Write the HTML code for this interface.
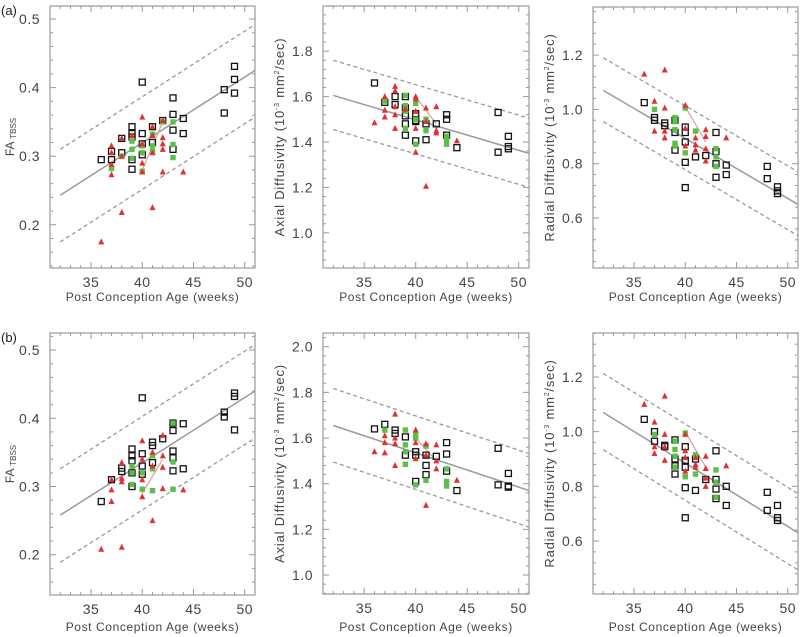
<!DOCTYPE html>
<html><head><meta charset="utf-8"><style>
body{margin:0;background:#fff;width:800px;height:637px;overflow:hidden}
svg{display:block;font-family:"Liberation Sans",sans-serif}
</style></head><body>
<svg id="fig" width="800" height="637"></svg>
<script>
// ---- data arrays ----
const p1BlackX=[36,37,37,38,38,39,39,39,39,39,40,40,40,40,41,41,42,43,43,43,43,44,44,48,48,49,49,49];
const p1BlackY=[0.295,0.307,0.295,0.305,0.326,0.343,0.333,0.328,0.295,0.281,0.408,0.333,0.318,0.302,0.343,0.32,0.352,0.385,0.361,0.338,0.31,0.355,0.333,0.397,0.363,0.431,0.412,0.392];
const p1GreenX=[37,38,39,39,39,40,40,40,41,41,41,42,43,43,43];
const p1GreenY=[0.282,0.30,0.322,0.31,0.297,0.315,0.305,0.278,0.332,0.315,0.307,0.35,0.35,0.317,0.298];
const p1RedX=[36,37,37,37,37,38,38,38,39,40,40,40,40,41,41,41,41,42,42,42,42,42,44];
const p1RedY=[0.175,0.315,0.305,0.288,0.273,0.326,0.30,0.218,0.33,0.357,0.318,0.29,0.277,0.343,0.33,0.305,0.225,0.352,0.327,0.318,0.31,0.277,0.277];

const p2BlackX=[36,37,38,38,39,39,39,39,39,40,40,40,40,41,41,42,43,43,43,44,48,48,49,49,49];
const p2BlackY=[1.66,1.575,1.6,1.565,1.6,1.55,1.515,1.48,1.43,1.525,1.495,1.49,1.405,1.48,1.41,1.48,1.52,1.5,1.43,1.375,1.53,1.355,1.425,1.38,1.37];
const p2GreenX=[37,39,39,39,39,40,40,40,41,41,43,43,43];
const p2GreenY=[1.58,1.605,1.56,1.535,1.46,1.57,1.5,1.39,1.5,1.45,1.425,1.41,1.39];
const p2RedX=[36,37,37,37,38,38,38,38,38,39,40,40,40,40,40,41,41,41,42,42,42,44];
const p2RedY=[1.485,1.6,1.54,1.51,1.645,1.625,1.555,1.52,1.46,1.545,1.6,1.59,1.535,1.46,1.355,1.55,1.49,1.205,1.555,1.45,1.44,1.405];

const p3BlackX=[36,37,37,38,38,39,39,39,40,40,40,40,40,41,42,43,43,43,43,44,44,48,48,49,49,49];
const p3BlackY=[1.025,0.97,0.96,0.95,0.94,0.96,0.915,0.85,0.935,0.915,0.88,0.805,0.712,0.825,0.83,0.915,0.845,0.80,0.75,0.795,0.76,0.79,0.745,0.715,0.70,0.69];
const p3GreenX=[37,39,39,39,39,39,40,40,41,43,43,43];
const p3GreenY=[1.0,0.97,0.955,0.925,0.875,0.865,1.005,0.84,0.92,0.855,0.825,0.79];
const p3RedX=[36,37,37,38,38,38,38,40,40,40,41,41,41,42,42,42,42,44];
const p3RedY=[1.13,1.03,0.92,1.145,1.005,0.92,0.895,1.015,0.93,0.865,0.895,0.87,0.85,0.925,0.9,0.855,0.81,0.895];

const p4BlackX=[36,37,38,38,39,39,39,39,39,40,40,40,40,41,41,41,42,43,43,43,43,43,44,44,48,48,49,49,49];
const p4BlackY=[0.278,0.31,0.327,0.322,0.355,0.345,0.338,0.32,0.30,0.43,0.348,0.33,0.318,0.365,0.36,0.335,0.37,0.393,0.382,0.352,0.342,0.323,0.392,0.326,0.409,0.402,0.437,0.432,0.383];
const p4GreenX=[39,39,39,40,40,41,41,41,43,43,43];
const p4GreenY=[0.33,0.32,0.303,0.32,0.296,0.345,0.326,0.294,0.393,0.336,0.296];
const p4RedX=[36,37,37,37,38,38,38,38,40,40,40,40,41,41,41,42,42,42,42,44];
const p4RedY=[0.208,0.31,0.295,0.278,0.335,0.312,0.307,0.211,0.367,0.34,0.31,0.285,0.35,0.33,0.25,0.375,0.345,0.328,0.297,0.295];

const p5BlackX=[36,37,38,38,39,39,40,40,40,41,41,41,42,43,43,43,44,48,48,49,49,49];
const p5BlackY=[1.64,1.66,1.635,1.62,1.605,1.525,1.54,1.525,1.41,1.525,1.48,1.44,1.52,1.58,1.53,1.455,1.37,1.555,1.395,1.445,1.39,1.385];
const p5GreenX=[37,39,39,39,39,40,40,40,41,41,43,43,43];
const p5GreenY=[1.635,1.635,1.57,1.54,1.485,1.615,1.6,1.395,1.565,1.415,1.465,1.41,1.39];
const p5RedX=[36,37,37,37,38,38,38,38,40,40,40,41,41,41,42,42,42,44];
const p5RedY=[1.54,1.61,1.58,1.535,1.705,1.6,1.575,1.48,1.635,1.58,1.51,1.575,1.525,1.305,1.57,1.5,1.465,1.415];

const p6BlackX=[36,37,37,38,38,39,39,39,39,40,40,40,40,40,41,41,42,43,43,43,43,44,44,48,48,49,49,49];
const p6BlackY=[1.045,1.0,0.965,0.95,0.945,0.97,0.90,0.875,0.845,0.945,0.895,0.87,0.795,0.685,0.90,0.785,0.825,0.93,0.825,0.79,0.755,0.80,0.73,0.778,0.712,0.73,0.685,0.675];
const p6GreenX=[37,39,39,39,39,40,40,41,41,43,43,43];
const p6GreenY=[0.99,0.965,0.935,0.91,0.87,0.995,0.835,0.915,0.845,0.86,0.815,0.76];
const p6RedX=[36,37,37,37,38,38,38,38,40,40,40,40,41,41,41,42,42,42,42,44];
const p6RedY=[1.10,1.035,0.945,0.92,1.13,0.99,0.945,0.895,0.99,0.93,0.905,0.855,0.905,0.88,0.87,0.91,0.865,0.83,0.80,0.875];

// regression lines: [value at 32, value at 51], band offset
const fitStart=[0.243,1.605,1.07,0.258,1.655,1.07];
const fitEnd=[0.425,1.35,0.65,0.44,1.37,0.63];
const bandUp=[0.067,0.155,0.12,0.068,0.162,0.143];
const bandLo=[0.068,0.15,0.115,0.069,0.16,0.136];
const segP1=[40,0.28,42,0.35];
const segP2=[40,1.6,42,1.48];
const segP3=[40,1.01,42,0.88];
const segP4=[40,0.29,42,0.34];
const segP5=[40,1.6,42,1.5];
const segP6=[40,1.0,42,0.87];

const yTicks1=[0.2,0.3,0.4,0.5];
const yTicks2=[1.0,1.2,1.4,1.6,1.8];
const yTicks3=[0.6,0.8,1.0,1.2];
const yTicks5=[1.0,1.2,1.4,1.6,1.8,2.0];
const xTicks=[35,40,45,50];

const NS='http://www.w3.org/2000/svg';
const svg=document.getElementById('fig');
function mk(tag,attrs,parent){const e=document.createElementNS(NS,tag);for(const k in attrs)e.setAttribute(k,attrs[k]);(parent||svg).appendChild(e);return e;}

const panels=[
 {L:50,R:255,T:6,B:268,y0:0.137,y1:0.519,ticks:yTicks1,bx:p1BlackX,by:p1BlackY,gx:p1GreenX,gy:p1GreenY,rx:p1RedX,ry:p1RedY,seg:segP1,lab:'fa',tl:19,tt:33},
 {L:323,R:529,T:6,B:268,y0:0.845,y1:1.999,ticks:yTicks2,bx:p2BlackX,by:p2BlackY,gx:p2GreenX,gy:p2GreenY,rx:p2RedX,ry:p2RedY,seg:segP2,lab:'Axial Diffusivity',tl:19,tt:33},
 {L:593,R:798,T:7,B:268,y0:0.416,y1:1.377,ticks:yTicks3,bx:p3BlackX,by:p3BlackY,gx:p3GreenX,gy:p3GreenY,rx:p3RedX,ry:p3RedY,seg:segP3,lab:'Radial Diffusivity',tl:19,tt:33},
 {L:50,R:255,T:333,B:595,y0:0.141,y1:0.525,ticks:yTicks1,bx:p4BlackX,by:p4BlackY,gx:p4GreenX,gy:p4GreenY,rx:p4RedX,ry:p4RedY,seg:segP4,lab:'fa',tl:19,tt:36},
 {L:323,R:529,T:333,B:594,y0:0.917,y1:2.06,ticks:yTicks5,bx:p5BlackX,by:p5BlackY,gx:p5GreenX,gy:p5GreenY,rx:p5RedX,ry:p5RedY,seg:segP5,lab:'Axial Diffusivity',tl:19,tt:37},
 {L:593,R:798,T:333,B:594,y0:0.406,y1:1.361,ticks:yTicks3,bx:p6BlackX,by:p6BlackY,gx:p6GreenX,gy:p6GreenY,rx:p6RedX,ry:p6RedY,seg:segP6,lab:'Radial Diffusivity',tl:19,tt:37}
];

const pl=mk('text',{x:1,y:15,'font-size':13,fill:'#222'});pl.textContent='(a)';


const pl2=mk('text',{x:1,y:342,'font-size':13,fill:'#222'});pl2.textContent='(b)';



panels.forEach((p,i)=>{
  const g=mk('g',{});
  
  
  const sx=v=>p.L+(v-31)/(51-31)*(p.R-p.L);
  const sy=v=>p.B-(v-p.y0)/(p.y1-p.y0)*(p.B-p.T);
  const fr=mk('rect',{x:p.L,y:p.T,width:p.R-p.L,height:p.B-p.T,fill:'none',stroke:'#999','stroke-width':1.2},g);
  
  
  for(let w=32;w<=50;w++){
    const len=(w%5===0)?6:3;
    mk('line',{x1:sx(w),x2:sx(w),y1:p.B,y2:p.B-len,stroke:'#999','stroke-width':1},g);
    mk('line',{x1:sx(w),x2:sx(w),y1:p.T,y2:p.T+len,stroke:'#999','stroke-width':1},g);
  }
  xTicks.forEach(t=>{
    const tx=mk('text',{x:sx(t),y:p.B+p.tl,'font-size':14,fill:'#444','text-anchor':'middle','letter-spacing':'0.5'},g);
    tx.textContent=t;
    
    
  });
  const step=p.ticks[1]-p.ticks[0];
  const minor=step/5;
  for(let v=Math.ceil(p.y0/minor)*minor;v<=p.y1;v+=minor){
    const isMaj=Math.abs(v/step-Math.round(v/step))<1e-6;
    const len=isMaj?6:3;
    mk('line',{x1:p.L,x2:p.L+len,y1:sy(v),y2:sy(v),stroke:'#999','stroke-width':1},g);
    mk('line',{x1:p.R,x2:p.R-len,y1:sy(v),y2:sy(v),stroke:'#999','stroke-width':1},g);
  }
  p.ticks.forEach(t=>{
    const ty=mk('text',{x:p.L-10,y:sy(t)+5,'font-size':14,fill:'#444','text-anchor':'end','letter-spacing':'0.5'},g);
    ty.textContent=t.toFixed(1);
    
    
  });
  const xt=mk('text',{x:(p.L+p.R)/2,y:p.B+p.tt,'font-size':12,fill:'#444','text-anchor':'middle','letter-spacing':'0.6'},g);
  xt.textContent='Post Conception Age (weeks)';
  
  
  const cy=(p.T+p.B)/2;
  if(p.lab==='fa'){
    const yt=mk('text',{x:0,y:0,'font-size':12,fill:'#444','text-anchor':'middle',transform:`translate(${p.L-36},${cy}) rotate(-90)`},g);
    yt.innerHTML='FA <tspan font-size="8" dy="2">TBSS</tspan>';
    
    
  } else {
    const yt=mk('text',{x:0,y:0,'font-size':13,fill:'#444','text-anchor':'middle','letter-spacing':'0.8',transform:`translate(${p.L-39},${cy}) rotate(-90)`},g);
    yt.innerHTML=p.lab+' (10<tspan font-size="7" dy="-5">-3</tspan><tspan dy="5"> mm</tspan><tspan font-size="7" dy="-5">2</tspan><tspan dy="5">/sec)</tspan>';
    
    
  }
  const a=fitStart[i],b=fitEnd[i];
  const fit=mk('line',{x1:sx(32),y1:sy(a),x2:sx(51),y2:sy(b),stroke:'#999','stroke-width':1.5},g);
  
  
  const up=mk('line',{x1:sx(32),y1:sy(a+bandUp[i]),x2:sx(51),y2:sy(b+bandUp[i]),stroke:'#999','stroke-width':1.3,'stroke-dasharray':'4,3'},g);
  
  
  const lo=mk('line',{x1:sx(32),y1:sy(a-bandLo[i]),x2:sx(51),y2:sy(b-bandLo[i]),stroke:'#999','stroke-width':1.3,'stroke-dasharray':'4,3'},g);
  
  
  const s=p.seg;
  const sg=mk('line',{x1:sx(s[0]),y1:sy(s[1]),x2:sx(s[2]),y2:sy(s[3]),stroke:'#d8a0a0','stroke-width':1.2},g);
  
  
  p.bx.forEach((x,k)=>{
    const r=mk('rect',{x:sx(x)-3,y:sy(p.by[k])-3,width:6,height:6,fill:'none',stroke:'#111','stroke-width':1.3},g);
    
    
  });
  p.gx.forEach((x,k)=>{
    const r=mk('rect',{x:sx(x)-2.7,y:sy(p.gy[k])-2.7,width:5.4,height:5.4,fill:'#5bbf4a'},g);
    
    
  });
  p.rx.forEach((x,k)=>{
    const cx=sx(x),cy2=sy(p.ry[k]);
    const t=mk('polygon',{points:`${cx},${cy2-3.5} ${cx-3},${cy2+2.5} ${cx+3},${cy2+2.5}`,fill:'#e03030'},g);
    
    
  });
});
</script>
</body></html>
